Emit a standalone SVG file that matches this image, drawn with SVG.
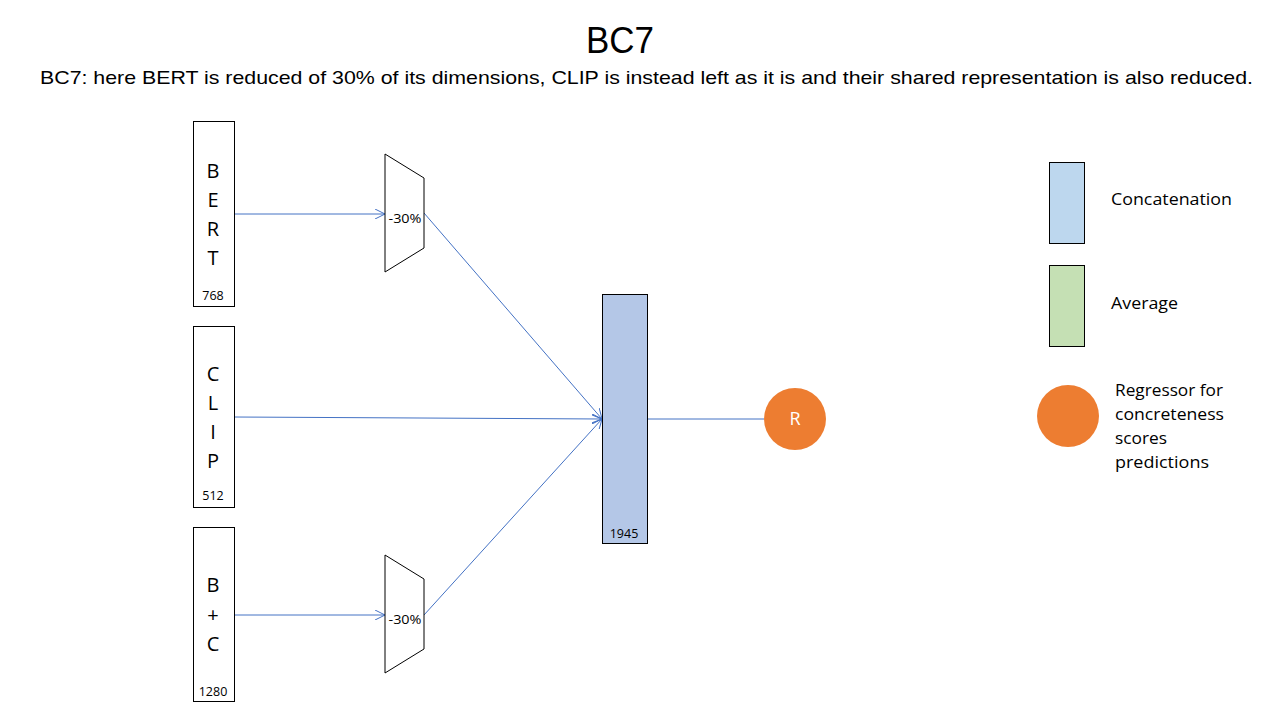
<svg xmlns="http://www.w3.org/2000/svg" width="1280" height="720" viewBox="0 0 1280 720">
<style>
.box{fill:#fff;stroke:#000;stroke-width:1}
.lt{font-family:"Open Sans","Liberation Sans",Arial,sans-serif;font-size:20px;text-anchor:middle;fill:#000}
.num{font-family:"Open Sans","Liberation Sans",Arial,sans-serif;font-size:12.5px;text-anchor:middle;fill:#000}
.leg{font-family:"Open Sans","Liberation Sans",Arial,sans-serif;font-size:17px;fill:#000}
.conn{stroke:#4472c4;stroke-width:1;fill:none}
</style>
<defs>
<marker id="arr" viewBox="0 0 10 10" refX="10" refY="5" markerWidth="10" markerHeight="10" markerUnits="userSpaceOnUse" orient="auto">
<path d="M0,0 L10,5 L0,10" fill="none" stroke="#4472c4" stroke-width="1"/>
</marker>
</defs>
<rect width="1280" height="720" fill="#fff"/>
<g id="title">
<text x="620" y="53" font-family="'Liberation Sans',Arial,sans-serif" font-size="36" text-anchor="middle" textLength="68" lengthAdjust="spacingAndGlyphs">BC7</text>
<text x="40" y="84" font-family="'Liberation Sans',Arial,sans-serif" font-size="19" textLength="1213" lengthAdjust="spacingAndGlyphs">BC7: here BERT is reduced of 30% of its dimensions, CLIP is instead left as it is and their shared representation is also reduced.</text>
</g>
<g id="connectors">
<line class="conn" x1="234" y1="214" x2="385" y2="214" marker-end="url(#arr)"/>
<line class="conn" x1="234" y1="615" x2="385" y2="615" marker-end="url(#arr)"/>
<line class="conn" x1="424" y1="213" x2="602" y2="419" marker-end="url(#arr)"/>
<line class="conn" x1="234" y1="417" x2="602" y2="419" marker-end="url(#arr)"/>
<line class="conn" x1="424" y1="615" x2="602" y2="419" marker-end="url(#arr)"/>
<line class="conn" x1="647" y1="419" x2="764" y2="419"/>
</g>
<g id="bert">
<rect class="box" x="193.5" y="121.5" width="41" height="185"/>
<text class="lt" x="213" y="178">B</text>
<text class="lt" x="213" y="207">E</text>
<text class="lt" x="213" y="236">R</text>
<text class="lt" x="213" y="265">T</text>
<text class="num" x="213" y="300">768</text>
</g>
<g id="clip">
<rect class="box" x="193.5" y="326.5" width="41" height="181"/>
<text class="lt" x="213" y="381">C</text>
<text class="lt" x="213" y="410">L</text>
<text class="lt" x="213" y="439">I</text>
<text class="lt" x="213" y="468">P</text>
<text class="num" x="213" y="500">512</text>
</g>
<g id="bc">
<rect class="box" x="193.5" y="527.5" width="41" height="174"/>
<text class="lt" x="213" y="592">B</text>
<text class="lt" x="213" y="622">+</text>
<text class="lt" x="213" y="651">C</text>
<text class="num" x="213" y="696">1280</text>
</g>
<g id="reduce1">
<polygon class="box" points="385,154 424,178 424,248 385,272"/>
<text class="num" x="405" y="223" textLength="33" lengthAdjust="spacingAndGlyphs">-30%</text>
</g>
<g id="reduce2">
<polygon class="box" points="385,555 424,579 424,649 385,673"/>
<text class="num" x="405" y="624" textLength="33" lengthAdjust="spacingAndGlyphs">-30%</text>
</g>
<g id="concat">
<rect x="602.5" y="294.5" width="45" height="249" fill="#b4c7e7" stroke="#000"/>
<text class="num" x="624" y="538">1945</text>
</g>
<g id="regressor">
<circle cx="795" cy="419" r="31" fill="#ed7d31"/>
<text x="795" y="425" font-family="'Open Sans','Liberation Sans',Arial,sans-serif" font-size="18" fill="#fff" text-anchor="middle">R</text>
</g>
<g id="legend">
<rect x="1049.5" y="162.5" width="35" height="81" fill="#bdd7ee" stroke="#000"/>
<text class="leg" x="1111" y="205" textLength="121" lengthAdjust="spacingAndGlyphs">Concatenation</text>
<rect x="1049.5" y="265.5" width="35" height="81" fill="#c5e0b4" stroke="#000"/>
<text class="leg" x="1111" y="309" textLength="67" lengthAdjust="spacingAndGlyphs">Average</text>
<circle cx="1068" cy="416" r="31" fill="#ed7d31"/>
<text class="leg" x="1115" y="396" font-size="16" textLength="108" lengthAdjust="spacingAndGlyphs">Regressor for</text>
<text class="leg" x="1115" y="420" font-size="16" textLength="109" lengthAdjust="spacingAndGlyphs">concreteness</text>
<text class="leg" x="1115" y="444" font-size="16" textLength="52" lengthAdjust="spacingAndGlyphs">scores</text>
<text class="leg" x="1115" y="468" font-size="16" textLength="94" lengthAdjust="spacingAndGlyphs">predictions</text>
</g>
</svg>
